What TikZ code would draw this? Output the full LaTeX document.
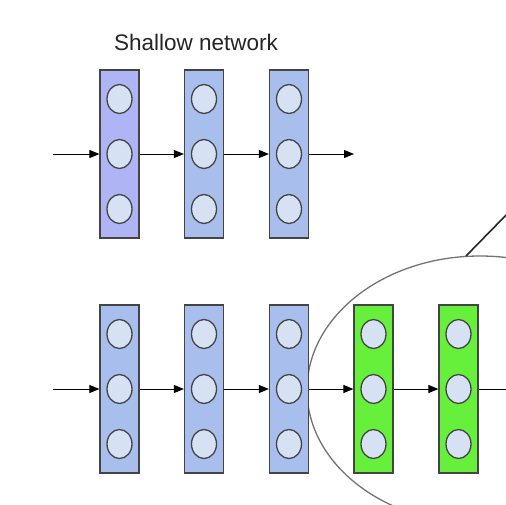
\documentclass[tikz,border=0pt]{standalone}
\usepackage{fontspec}
\setmainfont{Liberation Sans}
\usetikzlibrary{shapes.geometric,arrows.meta}
\definecolor{lav}{HTML}{AEB4F4}
\definecolor{lblue}{HTML}{A8BEEC}
\definecolor{lgreen}{HTML}{66F03C}
\definecolor{cfill}{HTML}{D6E2F4}
\definecolor{edge}{HTML}{444444}
\tikzset{
  layerbox/.style={draw=edge, line width=1.2pt, minimum width=39pt, minimum height=168pt, inner sep=0pt, rectangle},
  unit/.style={draw=edge, line width=1.3pt, fill=cfill, ellipse, minimum width=25pt, minimum height=29pt, inner sep=0pt},
  conn/.style={line width=1pt, -{Triangle[length=10pt,width=8pt]}},
  plain/.style={line width=1pt},
}
\begin{document}
\begin{tikzpicture}[x=1pt,y=-1pt]
\useasboundingbox (0,0) rectangle (506,504);
\clip (0,0) rectangle (506,504);
\fill[white] (0,0) rectangle (506,504);
\node[font=\fontsize{22.5}{26}\selectfont, text=black!85] (title) at (196,42) {Shallow network};
% zoom ellipse
\node[ellipse, draw=black!55, line width=1.3pt, minimum width=346pt, minimum height=268pt, inner sep=0pt] (ell) at (480,390) {};
\coordinate (l0) at (466,256);
\coordinate (l1) at (560,160);
\draw[line width=1.6pt, black!85] (l0) -- (l1);
% boxes
\foreach \name/\x/\y/\col in {t1/119.5/154/lav, t2/204/154/lblue, t3/289/154/lblue,
  b1/119.5/389/lblue, b2/204/389/lblue, b3/289/389/lblue, g1/373.5/389/lgreen, g2/458.5/389/lgreen}{
  \node[layerbox, fill=\col] (\name) at (\x,\y) {};
  \node[unit] (\name a) at (\x,\y-55) {};
  \node[unit] (\name b) at (\x,\y) {};
  \node[unit] (\name c) at (\x,\y+55) {};
}
\coordinate (tin) at (53,154);
\coordinate (tout) at (354,154);
\coordinate (bin) at (53,389);
\coordinate (bout) at (530,389);
\draw[conn] (tin) -- (t1.west);
\draw[conn] (t1.east) -- (t2.west);
\draw[conn] (t2.east) -- (t3.west);
\draw[conn] (t3.east) -- (tout);
\draw[conn] (bin) -- (b1.west);
\draw[conn] (b1.east) -- (b2.west);
\draw[conn] (b2.east) -- (b3.west);
\draw[conn] (b3.east) -- (g1.west);
\draw[conn] (g1.east) -- (g2.west);
\draw[plain] (g2.east) -- (bout);
\end{tikzpicture}
\end{document}
